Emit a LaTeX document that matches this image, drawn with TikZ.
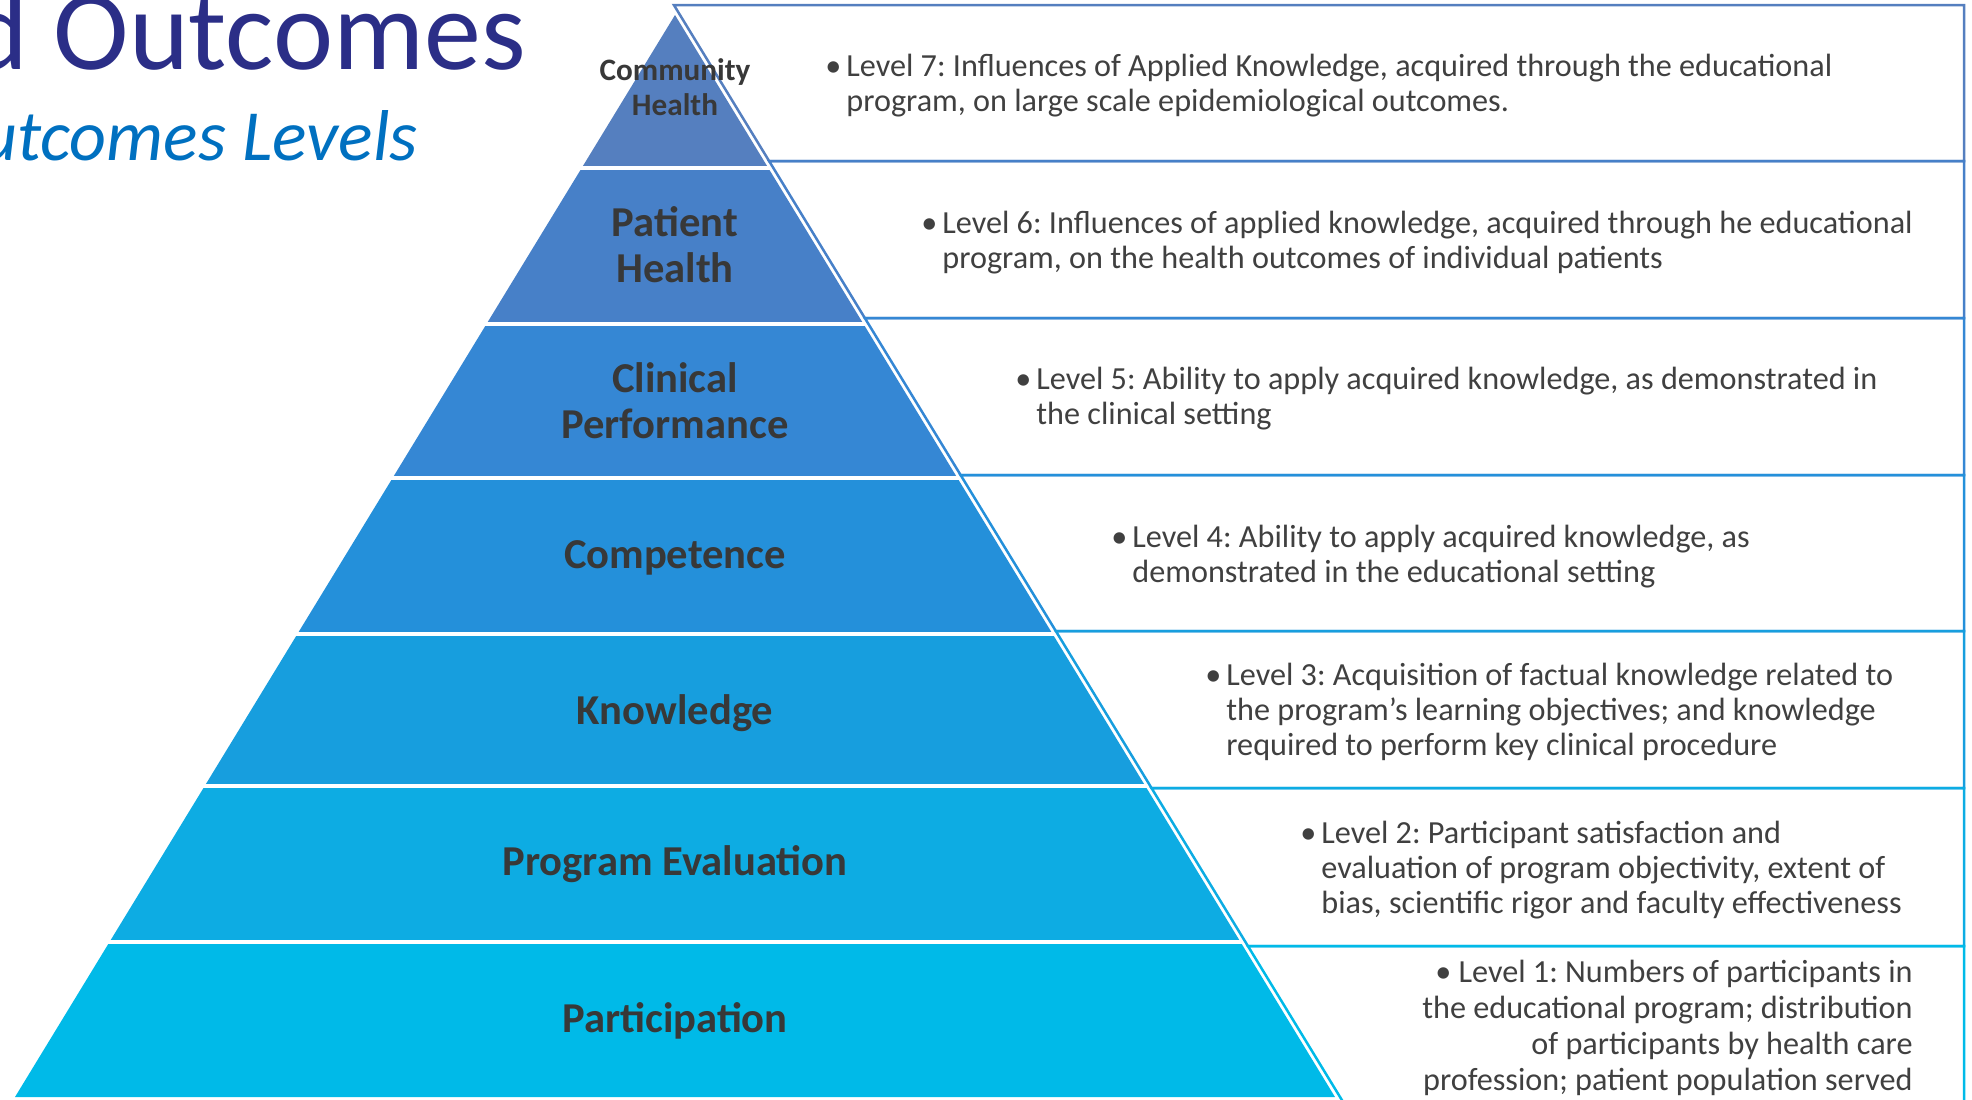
\documentclass[tikz,border=0pt]{standalone}
\usepackage{fontspec}
\setmainfont{Carlito}
\definecolor{c1}{RGB}{85,127,191}
\definecolor{c2}{RGB}{71,128,200}
\definecolor{c3}{RGB}{53,135,212}
\definecolor{c4}{RGB}{36,144,218}
\definecolor{c5}{RGB}{23,158,222}
\definecolor{c6}{RGB}{13,172,227}
\definecolor{c7}{RGB}{0,186,232}
\definecolor{txtgray}{RGB}{64,64,64}
\definecolor{lblgray}{RGB}{56,56,56}
\definecolor{navy}{RGB}{43,46,135}
\definecolor{ttlblue}{RGB}{0,112,192}
\tikzset{
  lvl/.style={font=\fontsize{16.1}{17.5}\selectfont, text=txtgray, inner sep=0pt, anchor=base west},
  lvlr/.style={font=\fontsize{16.1}{18}\selectfont, text=txtgray, inner sep=0pt, anchor=base east},
  band/.style={font=\bfseries\fontsize{21.3}{23}\selectfont, text=lblgray, inner sep=0pt, anchor=base},
  bandsmall/.style={font=\bfseries\fontsize{15.6}{17.5}\selectfont, text=lblgray, inner sep=0pt, anchor=base},
  boxline/.style={draw=#1, line width=1.25pt, line join=miter},
  gapline/.style={draw=white, line width=2pt},
}
\newcommand{\bul}{\makebox[10.5pt][l]{\textbullet}}
\frenchspacing
\begin{document}
\begin{tikzpicture}[x=0.5pt,y=-0.5pt]
\useasboundingbox (0,0) rectangle (1972,1099);
\clip (0,0) rectangle (1972,1099);
% title fragments
\node[anchor=base east, inner sep=0pt, font=\fontsize{57}{60}\selectfont, text=navy] (title) at (526,69) {d Outcomes};
\node[anchor=base east, inner sep=0pt, font=\itshape\fontsize{36}{40}\selectfont, text=ttlblue] (subtitle) at (418,160) {utcomes Levels};
% right boxes
\draw[boxline=c1] (673.9,5) -- (1964,5) -- (1964,161) -- (769.1,161) -- cycle;
\draw[boxline=c2] (769.1,161) -- (1964,161) -- (1964,318) -- (864.8,318) -- cycle;
\draw[boxline=c3] (864.8,318) -- (1964,318) -- (1964,475) -- (960.6,475) -- cycle;
\draw[boxline=c4] (960.6,475) -- (1964,475) -- (1964,631) -- (1055.8,631) -- cycle;
\draw[boxline=c5] (1055.8,631) -- (1964,631) -- (1964,788) -- (1151.5,788) -- cycle;
\draw[boxline=c6] (1151.5,788) -- (1964,788) -- (1964,946) -- (1247.9,946) -- cycle;
\draw[boxline=c7] (1247.9,946) -- (1964,946) -- (1964,1103) -- (1343.7,1103) -- cycle;
% pyramid bands
\fill[c1] (675,15) -- (768,167.5) -- (582,167.5) -- cycle;
\fill[c2] (582,167.5) -- (768,167.5) -- (863.2,323.5) -- (486.8,323.5) -- cycle;
\fill[c3] (486.8,323.5) -- (863.2,323.5) -- (957.4,478) -- (392.6,478) -- cycle;
\fill[c4] (392.6,478) -- (957.4,478) -- (1052.3,633.5) -- (297.7,633.5) -- cycle;
\fill[c5] (297.7,633.5) -- (1052.3,633.5) -- (1145.3,786) -- (204.7,786) -- cycle;
\fill[c6] (204.7,786) -- (1145.3,786) -- (1240.2,941.5) -- (109.8,941.5) -- cycle;
\fill[c7] (109.8,941.5) -- (1240.2,941.5) -- (1335,1097) -- (15,1097) -- cycle;
% white gaps
\draw[gapline] (580,167.5) -- (770,167.5);
\draw[gapline] (484.8,323.5) -- (865.2,323.5);
\draw[gapline] (390.6,478) -- (959.4,478);
\draw[gapline] (295.7,633.5) -- (1054.3,633.5);
\draw[gapline] (202.7,786) -- (1147.3,786);
\draw[gapline] (107.8,941.5) -- (1242.2,941.5);
% band labels
\node[bandsmall] (l7) at (675,80) {\begin{tabular}[t]{@{}c@{}}Community\\Health\end{tabular}};
\node[band] (l6) at (675,236) {\begin{tabular}[t]{@{}c@{}}Patient\\Health\end{tabular}};
\node[band] (l5) at (675,392) {\begin{tabular}[t]{@{}c@{}}Clinical\\Performance\end{tabular}};
\node[band] (l4) at (675,568) {Competence};
\node[band] (l3) at (675,724) {Knowledge};
\node[band] (l2) at (675,875) {Program Evaluation};
\node[band] (l1) at (675,1032) {Participation};
% level descriptions
\node[lvl] (d7) at (825,76) {\begin{tabular}[t]{@{}l@{}l@{}}\bul&Level 7: Influences of Applied Knowledge, acquired through the educational\\&program, on large scale epidemiological outcomes.\end{tabular}};
\node[lvl] (d6) at (921,233) {\begin{tabular}[t]{@{}l@{}l@{}}\bul&Level 6: Influences of applied knowledge, acquired through he educational\\&program, on the health outcomes of individual patients\end{tabular}};
\node[lvl] (d5) at (1015,389) {\begin{tabular}[t]{@{}l@{}l@{}}\bul&Level 5: Ability to apply acquired knowledge, as demonstrated in\\&the clinical setting\end{tabular}};
\node[lvl] (d4) at (1111,547) {\begin{tabular}[t]{@{}l@{}l@{}}\bul&Level 4: Ability to apply acquired knowledge, as\\&demonstrated in the educational setting\end{tabular}};
\node[lvl] (d3) at (1205,685) {\begin{tabular}[t]{@{}l@{}l@{}}\bul&Level 3: Acquisition of factual knowledge related to\\&the program’s learning objectives; and knowledge\\&required to perform key clinical procedure\end{tabular}};
\node[lvl] (d2) at (1300,843) {\begin{tabular}[t]{@{}l@{}l@{}}\bul&Level 2: Participant satisfaction and\\&evaluation of program objectivity, extent of\\&bias, scientific rigor and faculty effectiveness\end{tabular}};
\node[lvlr] (d1) at (1913,982) {\begin{tabular}[t]{@{}r@{}}\textbullet\ Level 1: Numbers of participants in\\the educational program; distribution\\of participants by health care\\profession; patient population served\end{tabular}};
\end{tikzpicture}
\end{document}
